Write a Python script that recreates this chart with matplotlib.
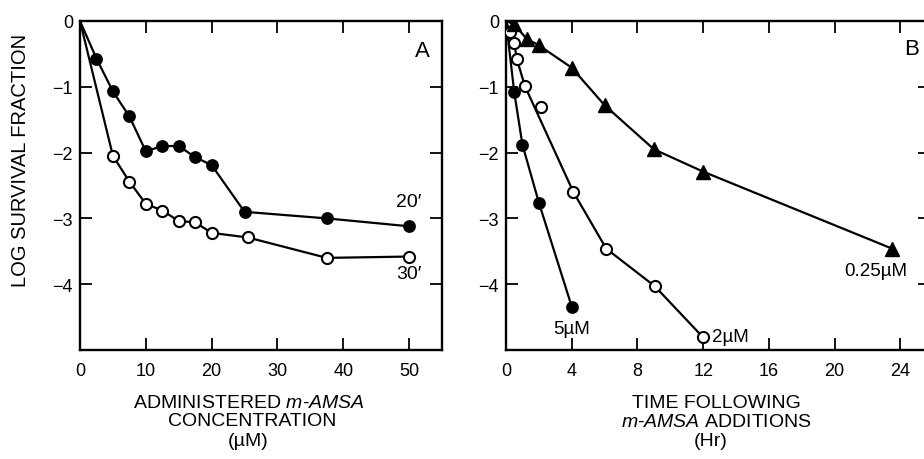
import matplotlib
matplotlib.use("Agg")
import matplotlib.pyplot as plt

plt.rcParams.update({
    "font.family": ["Liberation Sans", "DejaVu Sans"],
    "mathtext.fontset": "custom",
    "mathtext.rm": "Liberation Sans",
    "mathtext.it": "Liberation Sans:italic",
    "axes.linewidth": 1.7,
})

# Panel A: log survival vs administered m-AMSA concentration (uM)
conc_20 = [0, 2.5, 5, 7.5, 10, 12.5, 15, 17.5, 20, 25, 37.5, 50]
surv_20 = [0, -0.57, -1.07, -1.45, -1.98, -1.9, -1.9, -2.07, -2.19, -2.9, -3.0, -3.12]
conc_30 = [0, 5, 7.5, 10, 12.5, 15, 17.5, 20, 25.5, 37.5, 50]
surv_30 = [0, -2.05, -2.44, -2.78, -2.88, -3.04, -3.06, -3.22, -3.29, -3.6, -3.58]

# Panel B: log survival vs time after addition (hr)
t_025 = [0, 0.5, 1.25, 2, 4, 6, 9, 12, 23.5]
s_025 = [0, -0.05, -0.27, -0.37, -0.71, -1.28, -1.95, -2.29, -3.46]
t_2 = [0, 0.25, 0.5, 0.65, 1.15, 4.1, 6.1, 9.05, 12]
s_2 = [0, -0.17, -0.33, -0.57, -0.99, -2.6, -3.46, -4.03, -4.81]
t_2_off = [2.15]          # plotted point lying off the drawn line
s_2_off = [-1.31]
t_5 = [0, 0.5, 1.0, 2.0, 4.0]
s_5 = [0, -1.08, -1.88, -2.76, -4.34]

yticks = [0, -1, -2, -3, -4]
ytick_labels = ["0", "\u22121", "\u22122", "\u22123", "\u22124"]
xticks_a = [0, 10, 20, 30, 40, 50]
xticks_b = [0, 4, 8, 12, 16, 20, 24]

W, H = 924, 460
fig = plt.figure(figsize=(W / 100, H / 100), dpi=100)


def px_axes(x0, x1, y0, y1):
    return fig.add_axes([x0 / W, 1 - y1 / H, (x1 - x0) / W, (y1 - y0) / H])


def style(ax, xticks):
    ax.set_yticks(yticks)
    ax.set_yticklabels(ytick_labels)
    ax.set_xticks(xticks)
    ax.set_xticklabels([str(t) for t in xticks])
    ax.tick_params(direction="in", length=8.5, width=1.3, top=True, right=True,
                   labelsize=13, colors="black")
    ax.tick_params(axis="x", pad=9)
    ax.tick_params(axis="y", pad=5)
    for s in ax.spines.values():
        s.set_color("black")


lk = dict(color="black", lw=1.6, solid_joinstyle="miter")
filled = dict(marker="o", ms=8, mfc="black", mec="black", mew=1.2)
hollow = dict(marker="o", ms=8, mfc="white", mec="black", mew=1.5)

# ---- Panel A
axA = px_axes(80, 442, 22, 351)
axA.plot(conc_30, surv_30, **lk, zorder=2)
axA.plot(conc_30[1:], surv_30[1:], ls="none", **hollow, zorder=3)
axA.plot(conc_20, surv_20, **lk, zorder=4)
axA.plot(conc_20[1:], surv_20[1:], ls="none", **filled, zorder=5)
axA.set_xlim(0, 55)
axA.set_ylim(-5, 0)
style(axA, xticks_a)
axA.text(50, -2.75, "20\u2032", fontsize=14, ha="center", va="center")
axA.text(50, -3.83, "30\u2032", fontsize=14, ha="center", va="center")
axA.text(0.945, 0.91, "A", transform=axA.transAxes, fontsize=16, ha="center", va="center")

# ---- Panel B (right edge runs past the figure like the cropped original)
axB = px_axes(506, 930, 22, 351)
axB.plot(t_025, s_025, **lk, zorder=2)
axB.plot(t_025[1:], s_025[1:], ls="none", marker="^", ms=9.5, mfc="black", mec="black", zorder=5)
axB.plot(t_2, s_2, **lk, zorder=2)
axB.plot(t_2[1:], s_2[1:], ls="none", **hollow, zorder=3)
axB.plot(t_2_off, s_2_off, ls="none", **hollow, zorder=3)
axB.plot(t_5, s_5, **lk, zorder=2)
axB.plot(t_5[1:], s_5[1:], ls="none", **filled, zorder=4)
axB.set_xlim(0, 25.8)
axB.set_ylim(-5, 0)
style(axB, xticks_b)
axB.text(4.0, -4.67, "5\u00b5M", fontsize=13.5, ha="center", va="center")
axB.text(12.55, -4.8, "2\u00b5M", fontsize=13.5, ha="left", va="center")
axB.text(22.5, -3.79, "0.25\u00b5M", fontsize=13.5, ha="center", va="center")
axB.text(24.7, -0.42, "B", fontsize=16, ha="center", va="center")

# ---- axis titles placed in pixel positions
def ftext(x, y, s, **kw):
    fig.text(x / W, 1 - y / H, s, ha="center", va="center", **kw)

ftext(21, 160, "LOG SURVIVAL FRACTION", rotation=90, fontsize=14.5)
ftext(249, 403, r"ADMINISTERED $\mathit{m}$-$\mathit{AMSA}$", fontsize=14)
ftext(252, 421, "CONCENTRATION", fontsize=14)
ftext(248, 442, "(\u00b5M)", fontsize=14)
ftext(716, 403, "TIME FOLLOWING", fontsize=14)
ftext(716, 423, r"$\mathit{m}$-$\mathit{AMSA}$ ADDITIONS", fontsize=14)
ftext(711, 442, "(Hr)", fontsize=14)

fig.savefig("out.png", dpi=100)
